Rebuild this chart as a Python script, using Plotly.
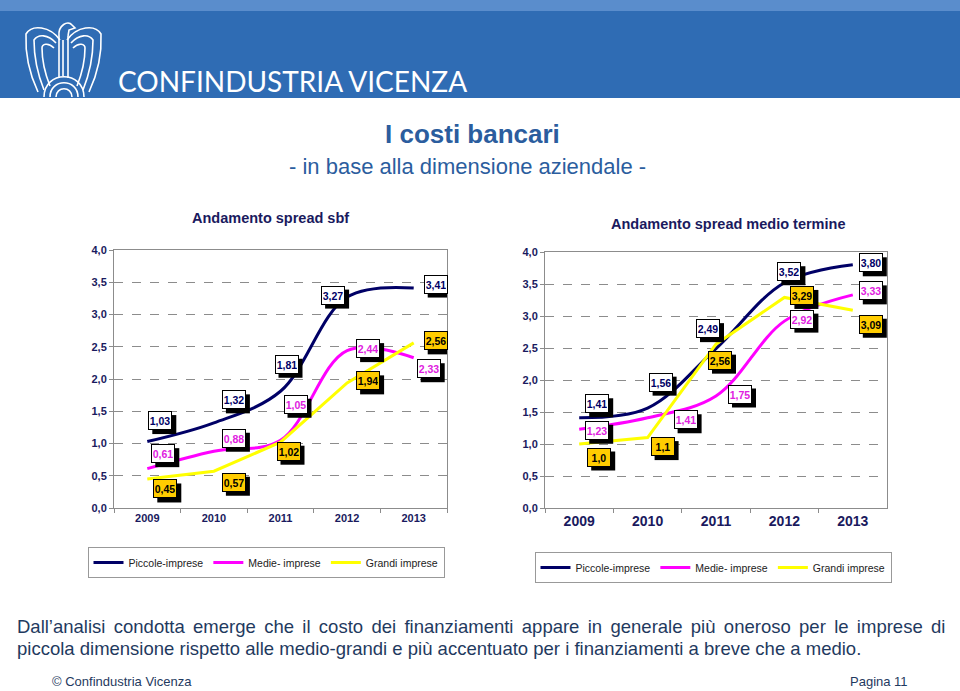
import plotly.graph_objects as go

# ---------------- data ----------------
years = ["2009", "2010", "2011", "2012", "2013"]
series_names = ["Piccole-imprese", "Medie- imprese", "Grandi imprese"]

sbf_piccole = [1.03, 1.32, 1.81, 3.27, 3.41]
sbf_medie = [0.61, 0.88, 1.05, 2.44, 2.33]
sbf_grandi = [0.45, 0.57, 1.02, 1.94, 2.56]

mt_piccole = [1.41, 1.56, 2.49, 3.52, 3.80]
mt_medie = [1.23, 1.41, 1.75, 2.92, 3.33]
mt_grandi = [1.0, 1.1, 2.56, 3.29, 3.09]
mt_grandi_decimals = [1, 1, 2, 2, 2]

y_ticks = [0, 0.5, 1, 1.5, 2, 2.5, 3, 3.5, 4]

# ---------------- styles ----------------
W, H = 960, 691
FONT = "Arial, Liberation Sans, sans-serif"
NAVY = "#1a1a5e"
line_colors = ["#000066", "#FF00FF", "#FFFF00"]
line_shapes = ["spline", "spline", "linear"]
label_fill = ["#FFFFFF", "#FFFFFF", "#FFCC00"]
label_text = ["#000066", "#E020E0", "#000000"]
BOX_W, BOX_H, SHADOW = 24, 19, 4

# label offsets (px right, px down) of the label box centre from its point
sbf_offsets = [
    [(13, -21), (20, -23), (6, -27), (-14, -2), (22, -4)],
    [(16, -15), (20, -13), (15, -36), (21, -2), (15, 11)],
    [(18, 10), (20, 11), (8, 9), (21, -2), (22, -2)],
]
mt_offsets = [
    [(18, -14), (13, -26), (-8, -20), (5, -11), (18, -2)],
    [(18, 1), (38, 2), (24, -2), (18, -2), (18, -4)],
    [(20, 13), (15, 9), (4, 16), (18, -2), (18, 14)],
]


def px(x):
    return x / W


def py(y):
    return 1 - y / H


def path(d):
    out, idx = [], 0
    for tok in d.split():
        try:
            v = float(tok)
        except ValueError:
            out.append(tok)
            continue
        out.append(f"{px(v):.5f}" if idx % 2 == 0 else f"{py(v):.5f}")
        idx += 1
    return " ".join(out)


def fmt(v, d=2):
    return f"{v:.{d}f}".replace(".", ",")


fig = go.Figure()

charts = [
    ("x", "y", "legend", [sbf_piccole, sbf_medie, sbf_grandi], sbf_offsets,
     [[2] * 5, [2] * 5, [2] * 5]),
    ("x2", "y2", "legend2", [mt_piccole, mt_medie, mt_grandi], mt_offsets,
     [[2] * 5, [2] * 5, mt_grandi_decimals]),
]

annotations = []
shapes = [
    dict(type="rect", xref="paper", yref="paper", x0=0, x1=1, y0=py(98), y1=1,
         fillcolor="#2f6cb4", line=dict(width=0), layer="below"),
    dict(type="rect", xref="paper", yref="paper", x0=0, x1=1, y0=py(11), y1=1,
         fillcolor="#5a8dcc", line=dict(width=0), layer="below"),
]

for xr, yr, lg, series, offsets, decs in charts:
    for s, vals in enumerate(series):
        fig.add_trace(go.Scatter(
            x=years, y=vals, mode="lines", name=series_names[s],
            line=dict(color=line_colors[s], width=3, shape=line_shapes[s], smoothing=1),
            xaxis=xr, yaxis=yr, legend=lg, hoverinfo="skip",
        ))
    for s, vals in enumerate(series):
        for i, v in enumerate(vals):
            dx, dy = offsets[s][i]
            # drop shadow of the label box
            shapes.append(dict(type="rect", xref=xr, yref=yr, xsizemode="pixel", ysizemode="pixel",
                               xanchor=i, yanchor=v,
                               x0=dx - BOX_W / 2 + SHADOW, x1=dx + BOX_W / 2 + SHADOW,
                               y0=-dy - BOX_H / 2 - SHADOW, y1=-dy + BOX_H / 2 - SHADOW,
                               fillcolor="#000000", line=dict(width=0), layer="above"))
            annotations.append(dict(x=i, y=v, xref=xr, yref=yr, text=fmt(v, decs[s][i]),
                                    showarrow=False, width=BOX_W - 4, height=BOX_H - 4,
                                    borderpad=1, borderwidth=1, xanchor="center", yanchor="middle",
                                    xshift=dx, yshift=-dy, bgcolor=label_fill[s], bordercolor="#000000",
                                    font=dict(size=10.5, color=label_text[s], family=FONT, weight="bold")))


# ---------------- text ----------------
def txt(x, y, t, size, color, anchor="center", weight="normal", family=FONT):
    annotations.append(dict(x=px(x), y=py(y), xref="paper", yref="paper", text=t, showarrow=False,
                            xanchor=anchor, yanchor="middle",
                            font=dict(size=size, color=color, family=family, weight=weight)))


txt(116, 81, "CONFINDUSTRIA VICENZA", 28, "#FFFFFF", anchor="left", family="Lato, Open Sans, sans-serif")
txt(472, 134, "I costi bancari", 26, "#2b5d9e", weight="bold")
txt(467, 167, "- in base alla dimensione aziendale -", 22, "#2b5d9e")
txt(270, 218, "Andamento spread sbf", 14.5, NAVY, weight="bold")
txt(728, 224, "Andamento spread medio termine", 14.5, NAVY, weight="bold")
txt(15, 626, '<span style="word-spacing:3.2px">Dall’analisi condotta emerge che il costo dei finanziamenti '
             'appare in generale più oneroso per le imprese di</span>', 18.5, "#1f3a60", anchor="left")
txt(15, 648, "piccola dimensione rispetto alle medio-grandi e più accentuato per i finanziamenti a breve che a medio.",
    18.5, "#1f3a60", anchor="left")
txt(50, 681, "© Confindustria Vicenza", 13, "#1f3a60", anchor="left")
txt(910, 681, "Pagina 11", 13, "#1f3a60", anchor="right")

# ---------------- logo ----------------
logo = [
    "M 60 40 C 50 26 32 24 26 34 C 25 55 30 75 38 92",
    "M 56 43 C 48 34 38 34 34 40 C 34 60 38 75 44 90",
    "M 54 48 C 48 42 42 44 42 48 C 42 62 46 76 50 86",
    "M 67 40 C 77 26 95 24 101 34 C 102 55 97 75 89 92",
    "M 71 43 C 79 34 89 34 93 40 C 93 60 89 75 83 90",
    "M 73 48 C 79 42 85 44 85 48 C 85 62 81 76 77 86",
    "M 59 36 L 59 78 M 68 36 L 68 78 M 63 40 L 63 76",
    "M 59 36 C 58 25 68 20 72 25 L 75 28 L 69 30 L 68 36",
    "M 56 97 C 56 86 72 86 72 97",
    "M 50 97 C 50 78 78 78 78 97",
    "M 44 97 C 44 70 84 70 84 97",
]
for d in logo:
    shapes.append(dict(type="path", xref="paper", yref="paper", path=path(d),
                       line=dict(color="#FFFFFF", width=1.6)))


# ---------------- axes ----------------
def yaxis(dom_top):
    return dict(domain=[py(508), py(dom_top)], range=[0, 4], tickvals=y_ticks, tickformat=".1f",
                showgrid=True, gridcolor="#8c8c8c", griddash="dash", gridwidth=1,
                showline=True, linecolor="#8c8c8c", mirror=True, zeroline=False,
                ticks="outside", ticklen=4, tickcolor="#8c8c8c",
                tickfont=dict(size=11, color=NAVY, family=FONT, weight="bold"), fixedrange=True)


def xaxis(x0, x1, anchor, size):
    return dict(domain=[px(x0), px(x1)], type="category", range=[-0.5, 4.5],
                tickson="boundaries", ticks="outside", ticklen=4, tickcolor="#8c8c8c",
                showgrid=False, showline=True, linecolor="#8c8c8c", mirror=True, anchor=anchor,
                tickfont=dict(size=size, color=NAVY, family=FONT, weight="bold"), fixedrange=True)


legend_common = dict(orientation="h", xanchor="center", yanchor="top", bgcolor="#FFFFFF",
                     bordercolor="#999999", borderwidth=1,
                     font=dict(size=10.5, color="#222222", family=FONT),
                     itemwidth=30, tracegroupgap=0)

fig.update_layout(
    width=W, height=H, margin=dict(l=0, r=0, t=0, b=0, autoexpand=False),
    paper_bgcolor="#FFFFFF", plot_bgcolor="#FFFFFF",
    separators=",.", showlegend=True,
    xaxis=xaxis(114, 447, "y", 11), yaxis=yaxis(250),
    xaxis2=xaxis(545, 887, "y2", 14), yaxis2=dict(yaxis(252), anchor="x2"),
    legend=dict(legend_common, x=px(266), y=py(547)),
    legend2=dict(legend_common, x=px(713), y=py(552)),
    annotations=annotations, shapes=shapes,
)
fig.layout.yaxis.anchor = "x"

fig.write_html("out.html", config={"displayModeBar": False},
               post_script="document.body.style.margin='0px';")
